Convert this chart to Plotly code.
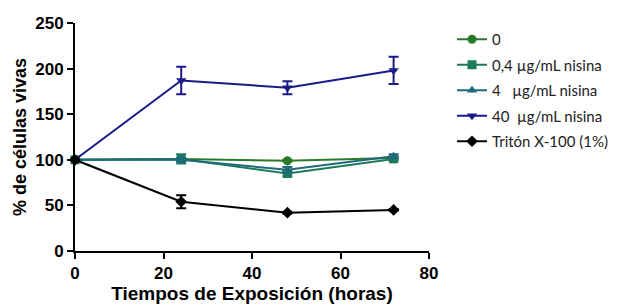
import plotly.graph_objects as go

horas = [0, 24, 48, 72]
names = ["0", "0,4 µg/mL nisina", "4   µg/mL nisina", "40  µg/mL nisina", "Tritón X-100 (1%)"]
v0 = [100, 101, 99, 102]
e0 = [0, 1, 1, 1]
v04 = [100, 101, 85, 101]
e04 = [0, 5, 3, 2]
v4 = [100, 100, 89, 104]
e4 = [0, 2, 3, 2]
v40 = [100, 187, 179, 198]
e40 = [0, 15, 7, 15]
vtr = [100, 54, 42, 45]
etr = [0, 7, 1, 1]

colors = ["#2a7a2a", "#1e7a5e", "#1f6a7a", "#1a1a88", "#000000"]
symbols = ["circle", "square", "triangle-up", "triangle-down", "diamond"]
series = [(v0, e0), (v04, e04), (v4, e4), (v40, e40), (vtr, etr)]

fig = go.Figure()
for i, ((v, e), n) in enumerate(zip(series, names)):
    fig.add_trace(go.Scatter(
        x=horas, y=v, name=n, mode="lines+markers",
        legendgroup=f"g{i}", cliponaxis=False,
        line=dict(color=colors[i], width=2),
        marker=dict(symbol=symbols[i], size=9, color=colors[i]),
        error_y=dict(type="data", array=e, visible=True, color=colors[i], thickness=2, width=5),
    ))

fig.update_layout(
    width=631, height=305,
    margin=dict(l=75, r=202, t=23, b=54),
    paper_bgcolor="white", plot_bgcolor="white",
    font=dict(family="Liberation Sans, Arial", color="black"),
    showlegend=True,
    legend=dict(x=1.065, y=1.0, xanchor="left", yanchor="top",
                font=dict(family="Lato", size=15, color="#222"),
                tracegroupgap=3, itemwidth=30, bgcolor="rgba(0,0,0,0)"),
    xaxis=dict(range=[0, 80], tickvals=[0, 20, 40, 60, 80], showgrid=False, zeroline=False,
               automargin=False,
               showline=True, linecolor="black", linewidth=2, ticks="outside", ticklen=6,
               tickwidth=2, tickcolor="black",
               tickfont=dict(size=17, family="Liberation Sans", weight="bold"),
               title=dict(text="Tiempos de Exposición (horas)", standoff=2,
                          font=dict(size=19, family="Liberation Sans", weight="bold"))),
    yaxis=dict(range=[0, 250], tickvals=[0, 50, 100, 150, 200, 250], showgrid=False, zeroline=False,
               automargin=False,
               showline=True, linecolor="black", linewidth=2, ticks="outside", ticklen=6,
               tickwidth=2, tickcolor="black",
               tickfont=dict(size=17, family="Liberation Sans", weight="bold"),
               title=dict(text="% de células vivas", standoff=4,
                          font=dict(size=18, family="Liberation Sans", weight="bold"))),
)

fig.write_html("out.html", config={"displayModeBar": False},
               post_script="document.body.style.margin='0';document.body.style.overflow='hidden';")
